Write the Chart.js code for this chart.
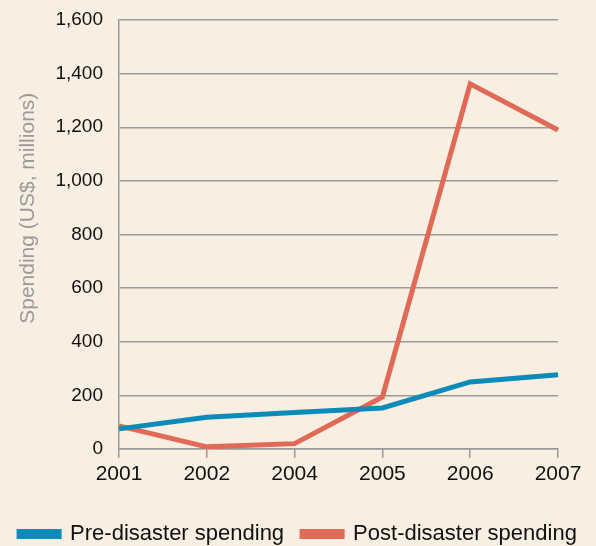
<!DOCTYPE html>
<html>
<head>
<meta charset="utf-8">
<script src="https://cdn.jsdelivr.net/npm/chart.js@4"></script>
<style>
html,body{margin:0;padding:0;background:#f8eee2;}
#wrap{width:596px;height:546px;position:relative;}
</style>
</head>
<body>
<div id="wrap"><canvas id="c" width="596" height="546"></canvas></div>
<script>
const categories = ['2001','2002','2004','2005','2006','2007'];
const preDisaster = [75, 118, 136, 153, 250, 277];
const postDisaster = [86, 8, 20, 194, 1362, 1190];
const yTicks = [0,200,400,600,800,1000,1200,1400,1600];
const seriesNames = ['Pre-disaster spending','Post-disaster spending'];
const yTitle = 'Spending (US$, millions)';

const FONT = "'Liberation Sans','Arial',sans-serif";
const bgPlugin = {id:'bg',beforeDraw(c){const x=c.ctx;x.save();x.fillStyle='#f8eee2';x.fillRect(0,0,c.width,c.height);x.restore();}};

new Chart(document.getElementById('c'),{
  type:'line',
  data:{labels:categories,datasets:[
    {label:seriesNames[0],data:preDisaster,borderColor:'#0a8bb8',backgroundColor:'#0a8bb8',borderWidth:5,pointRadius:0,tension:0},
    {label:seriesNames[1],data:postDisaster,borderColor:'#e06a55',backgroundColor:'#e06a55',borderWidth:5,pointRadius:0,tension:0}
  ]},
  options:{
    responsive:false,animation:false,
    layout:{padding:{left:0,right:0,top:0,bottom:-9}},
    plugins:{
      legend:{position:'bottom',align:'center',labels:{boxWidth:40,boxHeight:5,padding:18,color:'#111',font:{family:FONT,size:22}}},
      tooltip:{enabled:false}
    },
    scales:{
      x:{offset:false,
        afterFit(s){s.height=56;s.paddingRight=38;s.paddingLeft=0;},
        grid:{drawOnChartArea:false,color:'#999',tickLength:9,lineWidth:1.5},
        border:{color:'#999',width:1.5},
        ticks:{color:'#111',font:{family:FONT,size:21},padding:4,maxRotation:0}
      },
      y:{min:0,max:1600,
        afterBuildTicks(s){s.ticks=yTicks.map(v=>({value:v}));},
        afterFit(s){s.width=119;s.paddingTop=20;s.paddingBottom=0;},
        grid:{color:'#999',lineWidth:1.5,tickLength:0},
        border:{color:'#999',width:1.5},
        ticks:{color:'#111',font:{family:FONT,size:19},padding:16,callback:v=>v.toLocaleString('en-US')},
        title:{display:true,text:'\u00a0'.repeat(9)+yTitle,color:'#9a9a9a',font:{family:FONT,size:21},padding:{top:16,bottom:4}}
      }
    }
  },
  plugins:[bgPlugin]
});
</script>
</body>
</html>
